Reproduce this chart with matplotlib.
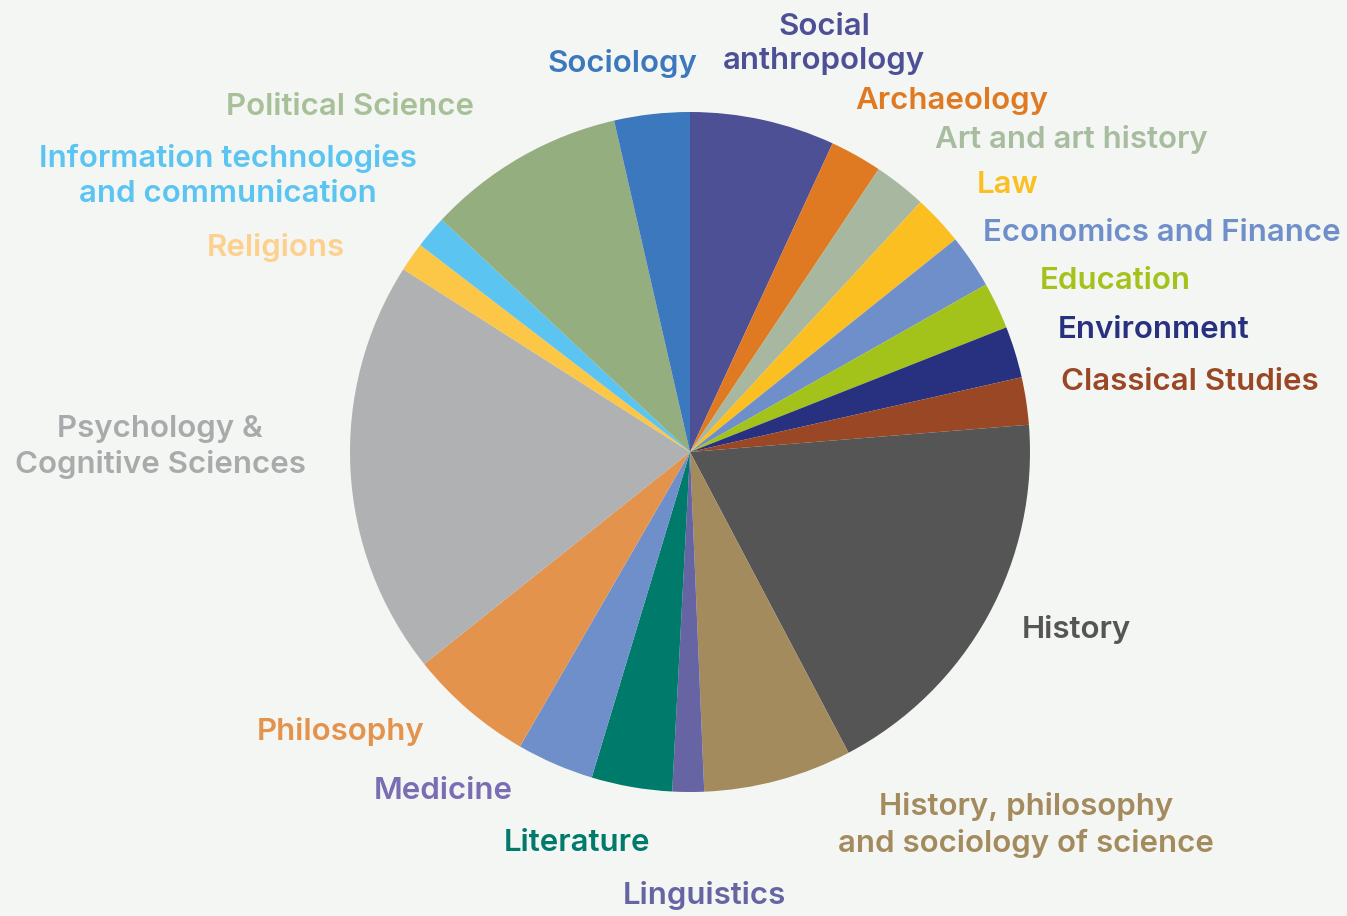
import matplotlib.pyplot as plt

plt.rcParams['font.family'] = ['Inter', 'DejaVu Sans']

# share of each field (degrees of the circle, clockwise from the top)
fields = ['Social anthropology', 'Archaeology', 'Art and art history', 'Law',
          'Economics and Finance', 'Education', 'Environment', 'Classical Studies',
          'History', 'History, philosophy and sociology of science', 'Linguistics',
          'Literature', 'Medicine', 'Philosophy', 'Psychology & Cognitive Sciences',
          'Religions', 'Information technologies and communication',
          'Political Science', 'Sociology']
shares = [24.8, 8.9, 9.0, 8.6, 9.2, 8.0, 8.8, 8.1, 66.8, 25.4, 5.4,
          13.8, 13.2, 21.4, 71.1, 5.0, 5.6, 34.0, 12.9]
slice_colors = ['#4e5096', '#e07a22', '#a8b8a0', '#fbbf22', '#6f8fcb', '#a3c21a',
                '#27317f', '#9a4725', '#555555', '#a38b5e', '#6764a4', '#007a6b',
                '#6f8fcb', '#e4934d', '#b0b1b2', '#fcc646', '#5bc4f0', '#95ae80',
                '#3c78bd']
label_colors = ['#4e5096', '#e07a22', '#a8bda0', '#fbbf22', '#6f8fcb', '#a3c21a',
                '#27317f', '#9a4725', '#555555', '#a38b5e', '#6764a4', '#007a6b',
                '#7a6db3', '#e4934d', '#a9aaab', '#fdd08e', '#5bc4f0', '#a8c098',
                '#3c78bd']
label_text = ['Social\nanthropology', 'Archaeology', 'Art and art history', 'Law',
              'Economics and Finance', 'Education', 'Environment', 'Classical Studies',
              'History', 'History, philosophy\nand sociology of science', 'Linguistics',
              'Literature', 'Medicine', 'Philosophy', 'Psychology &\nCognitive Sciences',
              'Religions', 'Information technologies\nand communication',
              'Political Science', 'Sociology']

# label anchor positions in pixel units (x, y from top) and horizontal alignment
label_pos = [(824, 44, 'center'), (855, 101, 'left'), (935, 140, 'left'),
             (977, 185, 'left'), (983, 233, 'left'), (1040, 281, 'left'),
             (1058, 330, 'left'), (1061, 382, 'left'), (1022, 629, 'left'),
             (1026, 825, 'center'), (704, 895, 'center'), (577, 843, 'center'),
             (443, 791, 'center'), (341, 731, 'center'), (160, 447, 'center'),
             (276, 248, 'center'), (228, 176, 'center'), (350, 107, 'center'),
             (622, 63, 'center')]

W, H = 1347, 916
bg = '#f4f6f3'
fig = plt.figure(figsize=(W / 100, H / 100), dpi=100, facecolor=bg)
ax = fig.add_axes([0, 0, 1, 1])
ax.set_facecolor(bg)

ax.pie(shares, colors=slice_colors, startangle=90, counterclock=False,
       center=(690, H - 452), radius=340, wedgeprops=dict(linewidth=0),
       frame=True)
ax.set_xlim(0, W)
ax.set_ylim(0, H)
ax.set_aspect('equal')
ax.axis('off')

for txt, col, (x, y, ha) in zip(label_text, label_colors, label_pos):
    ax.text(x, H - y, txt, color=col, ha=ha, va='center', fontsize=22.5,
            fontweight='semibold', linespacing=1.3)

fig.savefig('out.png', dpi=100, facecolor=bg)
